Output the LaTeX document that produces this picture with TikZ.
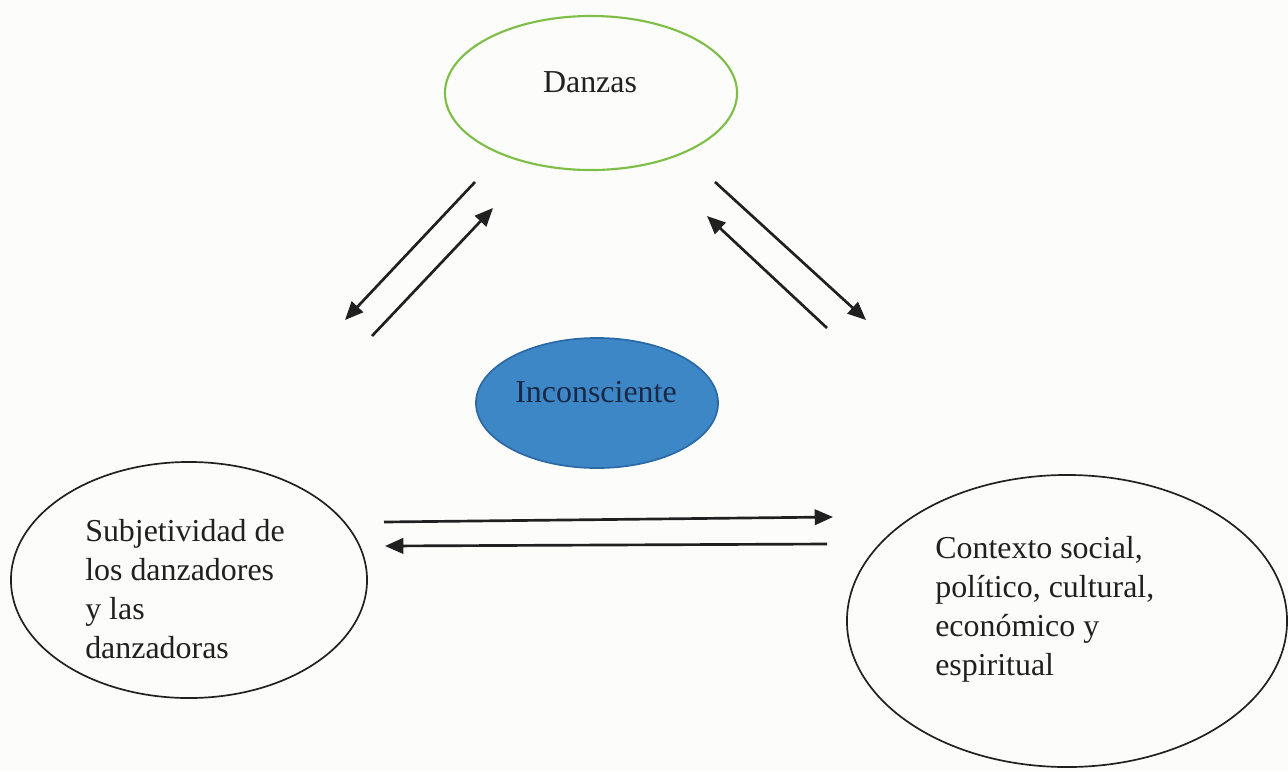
\documentclass[tikz,border=0pt]{standalone}
\usepackage{fontspec}
\setmainfont{Liberation Serif}
\usepackage{tkz-euclide}
\usetikzlibrary{shapes.geometric, arrows.meta}

\definecolor{hoja}{RGB}{125,190,70}
\definecolor{azul}{RGB}{61,135,199}
\definecolor{azulborde}{RGB}{43,105,165}
\definecolor{tinta}{RGB}{32,32,32}
\definecolor{marino}{RGB}{25,40,70}
\definecolor{fondo}{RGB}{252,252,250}

\tikzset{
  elipse/.style={ellipse, draw=tinta, line width=1.2pt, inner sep=0pt},
  texto/.style={font=\fontsize{22.7}{27.7}\selectfont, text=tinta, inner sep=0pt, align=left},
  flecha/.style={line width=1.9pt, draw=tinta, -{Triangle[length=13pt,width=11pt]}}
}

\begin{document}
\begin{tikzpicture}[x=0.025cm, y=-0.025cm]
\fill[fondo] (0,0) rectangle (1288,771);
\useasboundingbox (0,0) rectangle (1288,771);

% the four ellipses
\node[elipse, draw=hoja, line width=1.5pt, minimum width=7.3cm, minimum height=3.85cm] (danzas) at (591,93) {};
\node[elipse, fill=azul, draw=azulborde, minimum width=6.05cm, minimum height=3.25cm] (incons) at (597,403) {};
\node[elipse, minimum width=8.9cm, minimum height=5.9cm] (subj) at (189,580) {};
\node[elipse, minimum width=11cm, minimum height=7.3cm] (ctx) at (1067,621) {};

% texts
\node[texto] (danzasT) at (590,82) {Danzas};
\node[texto, text=marino] (inconsT) at (596,392) {Inconsciente};
\node[texto, anchor=north west] (subjT) at (85,519) {Subjetividad de\\los danzadores\\y las\\danzadoras};
\node[texto, anchor=north west] (ctxT) at (935,536) {Contexto social,\\político, cultural,\\económico y\\espiritual};

% arrow ends
\tkzDefPoints{475/182/a1, 345/320/a2, 372/336/b1, 493/208/b2,
  715/182/c1, 866/320/c2, 827/328/d1, 707/216/d2,
  384/522/e1, 833/517/e2, 827/544/f1, 385/546/f2}
\draw[flecha] (a1) -- (a2);
\draw[flecha] (b1) -- (b2);
\draw[flecha] (c1) -- (c2);
\draw[flecha] (d1) -- (d2);
\draw[flecha] (e1) -- (e2);
\draw[flecha] (f1) -- (f2);
\end{tikzpicture}
\end{document}
